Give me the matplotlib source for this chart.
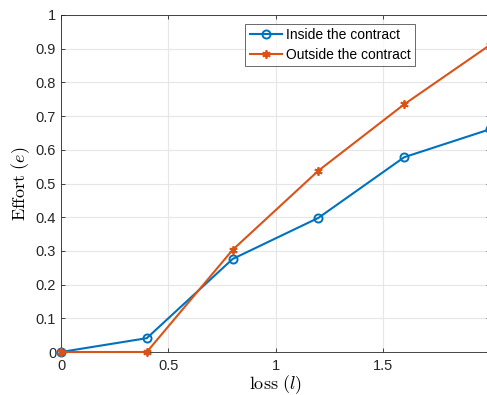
import numpy as np
from matplotlib import pyplot as plt

plt.rcParams['font.family'] = ['Liberation Sans', 'DejaVu Sans']
plt.rcParams['mathtext.fontset'] = 'cm'

loss = [0, 0.4, 0.8, 1.2, 1.6, 2.0]
inside = [0, 0.041, 0.276, 0.398, 0.578, 0.661]
outside = [0, 0, 0.303, 0.538, 0.735, 0.911]
labels = ['Inside the contract', 'Outside the contract']

fig = plt.figure(figsize=(4.87, 3.95), dpi=100)
ax = fig.add_axes([61/487, 43/395, 429/487, 337/395])

ax.plot(loss, inside, color='#0072BD', lw=1.5, marker='o', ms=5.8,
        mfc='none', mew=1.4, label=labels[0], clip_on=False, zorder=3)
ax.plot(loss, outside, color='#D95319', lw=1.5, marker=(6, 2, 0), ms=6,
        mew=1.3, label=labels[1], clip_on=False, zorder=3)

ax.set_xlim(0, 2)
ax.set_ylim(0, 1)
ax.set_xticks([0, 0.5, 1, 1.5, 2])
ax.set_xticklabels(['0', '0.5', '1', '1.5', '2'])
ax.set_yticks(np.arange(0, 1.01, 0.1))
ax.set_yticklabels(['0', '0.1', '0.2', '0.3', '0.4', '0.5', '0.6', '0.7', '0.8', '0.9', '1'])
ax.tick_params(axis='x', pad=5)
ax.tick_params(direction='in', top=True, right=True, length=3, width=0.6,
               labelsize=10.5, colors='#262626')
for s in ax.spines.values():
    s.set_linewidth(0.6)
    s.set_color('#262626')
ax.grid(True, color='#e6e6e6', lw=0.8)
ax.set_axisbelow(True)

ax.set_xlabel(r'$\mathrm{loss}\ (l)$', fontsize=13, labelpad=0)
ax.set_ylabel(r'$\mathrm{Effort}\ (e)$', fontsize=13, labelpad=3)

leg = ax.legend(loc='upper left', bbox_to_anchor=(0.43, 0.974), fontsize=10,
                frameon=True, fancybox=False, borderpad=0.3, labelspacing=0.45,
                handlelength=2.3, handletextpad=0.3, borderaxespad=0)
leg.get_frame().set_edgecolor('#262626')
leg.get_frame().set_linewidth(0.6)

fig.savefig('out.png', dpi=100)
